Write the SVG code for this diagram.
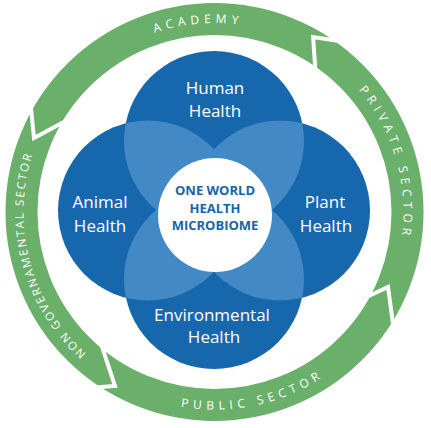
<svg xmlns="http://www.w3.org/2000/svg" width="431" height="428" viewBox="0 0 431 428">
<style>
.blue{fill:#1767ad}
.lens{fill:#4389c5}
.lbl{font-family:"Open Sans","DejaVu Sans",sans-serif;font-size:17px;fill:#ffffff;text-anchor:middle}
.core{font-family:"Open Sans","DejaVu Sans",sans-serif;font-size:13px;font-weight:bold;fill:#1565a8;text-anchor:middle}
.ring{font-family:"Open Sans","DejaVu Sans",sans-serif;font-size:12px;fill:#ffffff;text-anchor:middle;letter-spacing:4.8px}
.gap{fill:none;stroke:#ffffff;stroke-width:4;stroke-linejoin:miter}
</style>
<defs>
<clipPath id="cH"><circle cx="214" cy="141" r="90"/></clipPath>
<clipPath id="cE"><circle cx="214" cy="279" r="90"/></clipPath>
<path id="pTop" d="M 25.5 212 A 189 189 0 0 1 403.5 212"/>
<path id="pRight" d="M 214.5 23 A 189 189 0 0 1 214.5 401"/>
<path id="pLeft" d="M 214.5 403 A 191 191 0 0 1 214.5 21"/>
<path id="pBottom" d="M 17 212 A 197.5 197.5 0 0 0 412 212"/>
</defs>
<g id="connectors">
<circle cx="214.5" cy="212" r="193" fill="none" stroke="#6ab06a" stroke-width="32"/>
<polyline class="gap" points="342.3,41.6 313.1,37.1 315.5,71.5"/>
<polyline class="gap" points="30.6,104.5 34,138 68.3,119.5"/>
<polyline class="gap" points="93.9,387.5 115,386 100.5,342.2"/>
<polyline class="gap" points="393.5,327.4 388,287 364.6,298"/>
</g>
<g id="academy"><text class="ring"><textPath href="#pTop" startOffset="280.4">ACADEMY</textPath></text></g>
<g id="private-sector"><text class="ring"><textPath href="#pRight" startOffset="244.1">PRIVATE SECTOR</textPath></text></g>
<g id="public-sector"><text class="ring"><textPath href="#pBottom" startOffset="351.6">PUBLIC SECTOR</textPath></text></g>
<g id="ngo-sector"><text class="ring" style="font-size:11.5px;letter-spacing:1.9px"><textPath href="#pLeft" startOffset="250">NON GOVERNAMENTAL SECTOR</textPath></text></g>
<g id="human-health"><circle class="blue" cx="214" cy="141" r="90"/></g>
<g id="environmental-health"><circle class="blue" cx="214" cy="279" r="90"/></g>
<g id="animal-health"><circle class="blue" cx="148" cy="210.5" r="90"/></g>
<g id="plant-health"><circle class="blue" cx="280" cy="210.5" r="90"/></g>
<g id="overlaps">
<circle class="lens" cx="148" cy="210.5" r="90" clip-path="url(#cH)"/>
<circle class="lens" cx="280" cy="210.5" r="90" clip-path="url(#cH)"/>
<circle class="lens" cx="148" cy="210.5" r="90" clip-path="url(#cE)"/>
<circle class="lens" cx="280" cy="210.5" r="90" clip-path="url(#cE)"/>
</g>
<g id="labels">
<text class="lbl" x="215" y="93.5">Human</text>
<text class="lbl" x="215" y="117">Health</text>
<text class="lbl" x="100" y="208">Animal</text>
<text class="lbl" x="100" y="232">Health</text>
<text class="lbl" x="325" y="208">Plant</text>
<text class="lbl" x="326" y="232">Health</text>
<text class="lbl" x="212" y="321">Environmental</text>
<text class="lbl" x="214" y="343">Health</text>
</g>
<g id="one-world-health-microbiome">
<circle cx="215" cy="215" r="57" fill="#ffffff"/>
<text class="core" x="215" y="195">ONE WORLD</text>
<text class="core" x="215" y="212.5">HEALTH</text>
<text class="core" x="215" y="230">MICROBIOME</text>
</g>
</svg>
